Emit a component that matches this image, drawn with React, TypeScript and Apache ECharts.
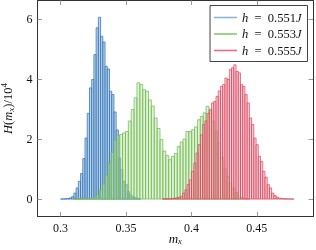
import React, { useEffect, useRef } from "react";
import * as echarts from "echarts";

// ---- data (histogram heights in units of 10^4) ----
const H_VALUES = ["0.551", "0.553", "0.555"];

const BLUE_START = 0.3;
const BLUE_WIDTH = 0.0017;
const BLUE_COUNTS = [
  0.0, 0.005, 0.01, 0.02, 0.04, 0.08, 0.2, 0.37, 0.59, 0.85, 1.35, 2.03, 2.85,
  3.7, 3.98, 4.81, 5.7, 6.05, 5.42, 5.23, 4.42, 4.33, 3.59, 3.48, 2.9, 2.3,
  1.37, 0.98, 0.59, 0.48, 0.25, 0.14, 0.09, 0.05, 0.03, 0.01,
];

const GREEN_START = 0.31;
const GREEN_WIDTH = 0.0022;
const GREEN_COUNTS = [
  0.005, 0.01, 0.01, 0.02, 0.02, 0.03, 0.03, 0.06, 0.14, 0.31, 0.5, 0.8, 1.2,
  1.55, 1.95, 2.12, 2.15, 2.2, 2.25, 2.6, 2.98, 3.37, 3.87, 3.81, 3.64, 3.59,
  3.3, 3.1, 2.7, 2.35, 1.98, 1.6, 1.45, 1.31, 1.42, 1.52, 1.75, 1.9, 2.0, 2.25,
  2.25, 2.31, 2.4, 2.64, 2.75, 2.87, 3.09, 3.0, 2.6, 2.25, 1.87, 1.4, 1.0,
  0.75, 0.53, 0.37, 0.22, 0.1, 0.05, 0.02, 0.01,
];

const RED_START = 0.378;
const RED_WIDTH = 0.0017;
const RED_COUNTS = [
  0.005, 0.005, 0.01, 0.01, 0.02, 0.03, 0.04, 0.06, 0.09, 0.2, 0.31, 0.48,
  0.64, 0.92, 1.2, 1.53, 1.81, 2.14, 2.48, 2.6, 2.85, 2.95, 3.2, 3.25, 3.42,
  3.6, 3.75, 3.81, 4.03, 3.98, 4.31, 4.37, 4.47, 4.25, 4.2, 3.81, 3.75, 3.48,
  3.2, 2.7, 2.48, 2.03, 1.81, 1.42, 1.25, 0.92, 0.73, 0.48, 0.37, 0.2, 0.12,
  0.07, 0.03, 0.02, 0.01, 0.01, 0.005, 0.005, 0.003,
];

const X_TICKS = [0.3, 0.35, 0.4, 0.45];
const Y_TICKS = [0, 2, 4, 6];
const X_MIN = 0.2824;
const X_MAX = 0.4929;
const Y_MIN = -0.58;
const Y_MAX = 6.61;

const FONT = "Liberation Serif";

const STYLES = [
  { stroke: "#3b78b6", fill: "rgba(140,182,226,0.6)", lw: 0.8, legend: "#8fb4da" },
  { stroke: "#6db84f", fill: "rgba(185,225,160,0.45)", lw: 0.7, legend: "#86c96a" },
  { stroke: "#db4159", fill: "rgba(243,170,182,0.5)", lw: 0.7, legend: "#e2707f" },
];

function bins(start: number, width: number, counts: number[]) {
  return counts.map((c, i) => [start + i * width, start + (i + 1) * width, c]);
}

const seriesNames = H_VALUES.map((h) => `h = ${h}J`);

export default function App() {
  const ref = useRef<HTMLDivElement>(null);
  useEffect(() => {
    if (!ref.current) return;
    const chart = echarts.init(ref.current, undefined, { renderer: "svg" });
    const datasets = [
      bins(BLUE_START, BLUE_WIDTH, BLUE_COUNTS),
      bins(GREEN_START, GREEN_WIDTH, GREEN_COUNTS),
      bins(RED_START, RED_WIDTH, RED_COUNTS),
    ];
    const axisCommon = {
      type: "value" as const,
      axisLine: { show: true, onZero: false, lineStyle: { color: "#333", width: 1 } },
      splitLine: { show: false },
    };
    chart.setOption({
      animation: false,
      grid: { left: 37.5, right: 3, top: 0.5, bottom: 33.5, containLabel: false, outerBoundsMode: "none" },
      legend: {
        orient: "vertical",
        right: 8.5,
        top: 5.5,
        padding: [5, 6, 4, 4],
        itemGap: 2.5,
        itemWidth: 23,
        itemHeight: 1.6,
        borderColor: "#444",
        borderWidth: 1,
        data: seriesNames.map((n, i) => ({ name: n, icon: "rect", itemStyle: { color: STYLES[i].legend } })),
        formatter: (name: string) => {
          const i = seriesNames.indexOf(name);
          return `{it|h}\u2002=\u2002${H_VALUES[i]}{it|J}`;
        },
        textStyle: {
          fontFamily: FONT,
          fontSize: 12.5,
          color: "#111",
          lineHeight: 14,
          rich: { it: { fontFamily: FONT, fontStyle: "italic", fontSize: 12.5, lineHeight: 14 } },
        },
      },
      xAxis: [
        {
          ...axisCommon,
          position: "bottom",
          min: X_MIN,
          max: X_MAX,
          axisTick: { show: true, inside: true, length: 4.5, customValues: X_TICKS, lineStyle: { color: "#999" } },
          axisLabel: {
            show: true,
            customValues: X_TICKS,
            formatter: (v: number) => String(Number(v.toFixed(3))),
            fontFamily: FONT,
            fontSize: 12,
            color: "#111",
            margin: 5,
          },
          name: "{it|m}{sub|x}",
          nameLocation: "middle",
          nameGap: 15,
          nameMoveOverlap: false,
          nameTextStyle: {
            fontFamily: FONT,
            fontSize: 12,
            color: "#111",
            rich: {
              it: { fontFamily: FONT, fontStyle: "italic", fontSize: 13, lineHeight: 14 },
              sub: { fontFamily: FONT, fontStyle: "italic", fontSize: 8.5, lineHeight: 8, verticalAlign: "bottom" },
            },
          },
        },
        {
          ...axisCommon,
          position: "top",
          min: X_MIN,
          max: X_MAX,
          axisTick: { show: true, inside: true, length: 4.5, customValues: X_TICKS, lineStyle: { color: "#999" } },
          axisLabel: { show: false },
        },
      ],
      yAxis: [
        {
          ...axisCommon,
          position: "left",
          min: Y_MIN,
          max: Y_MAX,
          axisTick: { show: true, inside: true, length: 4.5, customValues: Y_TICKS, lineStyle: { color: "#999" } },
          axisLabel: {
            show: true,
            customValues: Y_TICKS,
            fontFamily: FONT,
            fontSize: 12,
            color: "#111",
            margin: 5,
          },
          name: "{it|H}{n|(}{it|m}{sub|x}{n|)/10}{sup|4}",
          nameLocation: "middle",
          nameRotate: 90,
          nameGap: 17,
          nameTextStyle: {
            fontFamily: FONT,
            fontSize: 12.5,
            color: "#111",
            rich: {
              n: { fontFamily: FONT, fontSize: 12.5, lineHeight: 16 },
              it: { fontFamily: FONT, fontStyle: "italic", fontSize: 12.5, lineHeight: 16 },
              sub: { fontFamily: FONT, fontStyle: "italic", fontSize: 9, verticalAlign: "bottom", lineHeight: 9 },
              sup: { fontFamily: FONT, fontSize: 9, verticalAlign: "top", lineHeight: 9 },
            },
          },
        },
        {
          ...axisCommon,
          position: "right",
          min: Y_MIN,
          max: Y_MAX,
          axisTick: { show: true, inside: true, length: 4.5, customValues: Y_TICKS, lineStyle: { color: "#999" } },
          axisLabel: { show: false },
        },
      ],
      series: datasets.map((data, i) => ({
        name: seriesNames[i],
        type: "custom",
        xAxisIndex: 0,
        yAxisIndex: 0,
        encode: { x: [0, 1], y: 2 },
        data,
        renderItem: (_params: any, api: any) => {
          const p0 = api.coord([api.value(0), api.value(2)]);
          const p1 = api.coord([api.value(1), 0]);
          return {
            type: "rect",
            shape: { x: p0[0], y: p0[1], width: p1[0] - p0[0], height: p1[1] - p0[1] },
            style: { fill: STYLES[i].fill, stroke: STYLES[i].stroke, lineWidth: STYLES[i].lw },
          };
        },
      })),
    });
    return () => chart.dispose();
  }, []);
  return <div ref={ref} style={{ position: "fixed", left: 0, top: 0, width: 316, height: 250 }} />;
}
